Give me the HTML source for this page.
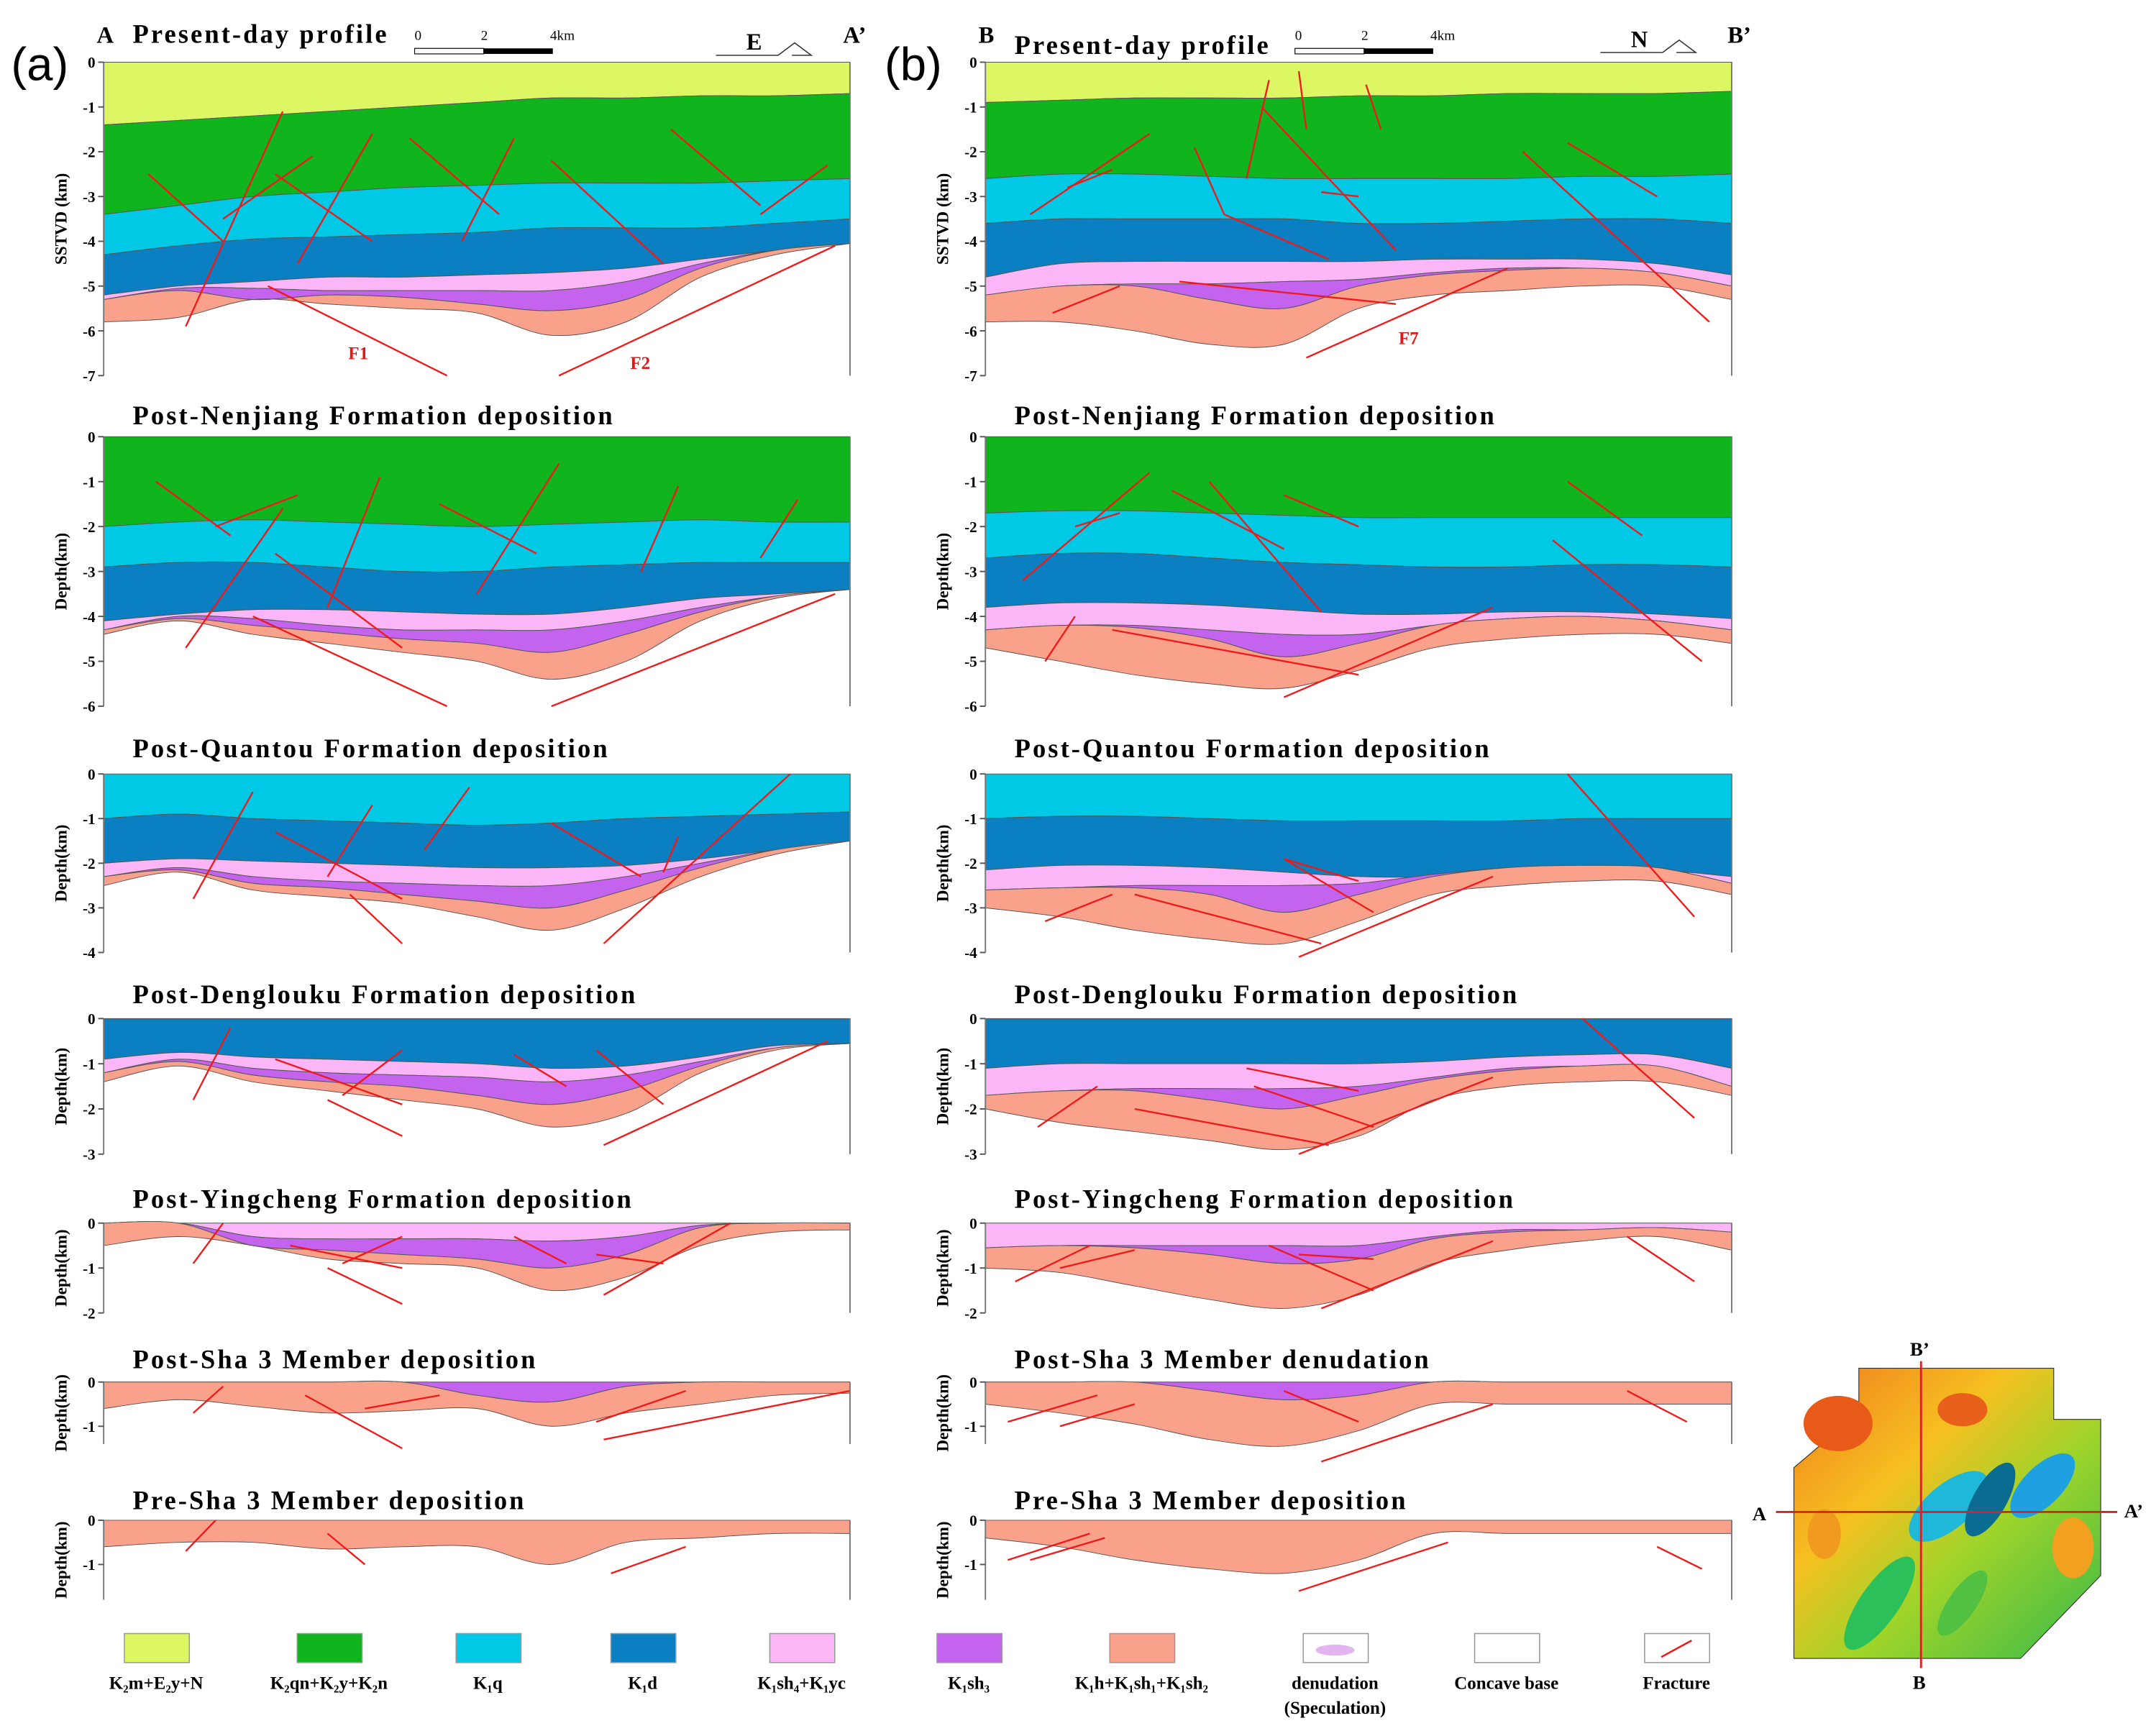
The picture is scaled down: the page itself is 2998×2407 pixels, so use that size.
<!DOCTYPE html>
<html><head><meta charset="utf-8"><style>
html,body{margin:0;padding:0;background:#fff}
svg{display:block}
text{font-family:"Liberation Serif",serif}
</style></head><body>
<svg id="fig" xmlns="http://www.w3.org/2000/svg" width="2998" height="2407" viewBox="0 0 1560 1252.5">
<rect width="1560" height="1252.5" fill="#fff"/>
<g id="panels"></g>
<g id="legend"></g>
<g id="inset">
 <defs>
  <linearGradient id="mg" x1="0" y1="0" x2="1" y2="1">
   <stop offset="0" stop-color="#f07a1e"/><stop offset="0.35" stop-color="#f6c020"/>
   <stop offset="0.6" stop-color="#9fd42a"/><stop offset="1" stop-color="#36b94a"/>
  </linearGradient>
 </defs>
 <polygon points="1345,990 1486,990 1486,1027 1520,1027 1520,1140 1462,1200 1298,1200 1298,1062 1345,1022" fill="url(#mg)" stroke="#333" stroke-width="0.6"/>
 <ellipse cx="1410" cy="1090" rx="35" ry="16" fill="#1fb8d8" transform="rotate(-40 1410 1090)"/>
 <ellipse cx="1478" cy="1075" rx="30" ry="14" fill="#1fa0e0" transform="rotate(-45 1478 1075)"/>
 <ellipse cx="1440" cy="1085" rx="12" ry="30" fill="#0c6b90" transform="rotate(30 1440 1085)"/>
 <ellipse cx="1360" cy="1160" rx="14" ry="40" fill="#2cc05a" transform="rotate(35 1360 1160)"/>
 <ellipse cx="1330" cy="1030" rx="25" ry="20" fill="#e85a18"/>
 <ellipse cx="1500" cy="1120" rx="15" ry="22" fill="#f2a020"/>
 <ellipse cx="1420" cy="1020" rx="18" ry="12" fill="#e8601a"/>
 <ellipse cx="1320" cy="1110" rx="12" ry="18" fill="#f09a20"/>
 <ellipse cx="1420" cy="1160" rx="10" ry="28" fill="#52c040" transform="rotate(35 1420 1160)"/>
 <line x1="1390" y1="985" x2="1390" y2="1207" stroke="#e02020" stroke-width="1.5"/>
 <line x1="1285" y1="1094" x2="1532" y2="1094" stroke="#e02020" stroke-width="1.5"/>
 <text x="1382" y="981" font-size="14" font-weight="bold">B’</text>
 <text x="1384" y="1222" font-size="14" font-weight="bold">B</text>
 <text x="1268" y="1100" font-size="14" font-weight="bold">A</text>
 <text x="1537" y="1098" font-size="14" font-weight="bold">A’</text>
</g>
<text x="8" y="58" font-size="34" style="font-family:'Liberation Sans',sans-serif">(a)</text>
<text x="640" y="58" font-size="34" style="font-family:'Liberation Sans',sans-serif">(b)</text>
</svg>
<script>
const C={Y:"#dcf664",G:"#10b41c",Cy:"#00c9e6",B:"#0a80c2",P:"#fbb6f8",Pu:"#c464ee",S:"#f9a18b"};
const layersA1=["Y","G","Cy","B","P","Pu","S"];
const boundsA1=[[0,0,0,0,0,0,0,0,0,0,0],[-1.4,-1.3,-1.2,-1.1,-1.0,-0.9,-0.8,-0.8,-0.75,-0.75,-0.7],[-3.4,-3.2,-3.0,-2.9,-2.8,-2.75,-2.7,-2.7,-2.7,-2.65,-2.6],[-4.3,-4.1,-3.95,-3.9,-3.85,-3.8,-3.7,-3.7,-3.7,-3.6,-3.5],[-5.2,-5.0,-4.9,-4.8,-4.8,-4.75,-4.7,-4.6,-4.4,-4.2,-4.05],[-5.3,-5.05,-5.05,-5.1,-5.1,-5.1,-5.1,-4.9,-4.5,-4.2,-4.05],[-5.3,-5.1,-5.3,-5.2,-5.25,-5.4,-5.55,-5.3,-4.6,-4.2,-4.05],[-5.8,-5.7,-5.3,-5.4,-5.5,-5.6,-6.1,-5.8,-4.8,-4.3,-4.05]];
const layersA2=["G","Cy","B","P","Pu","S"];
const boundsA2=[[0,0,0,0,0,0,0,0,0,0,0],[-2.0,-1.9,-1.85,-1.9,-1.95,-2.0,-1.95,-1.9,-1.85,-1.9,-1.9],[-2.9,-2.8,-2.8,-2.9,-3.0,-3.0,-2.9,-2.85,-2.8,-2.8,-2.8],[-4.1,-3.95,-3.85,-3.85,-3.9,-3.95,-3.95,-3.8,-3.6,-3.5,-3.4],[-4.3,-4.0,-4.05,-4.2,-4.3,-4.3,-4.3,-4.1,-3.8,-3.55,-3.4],[-4.3,-4.05,-4.2,-4.35,-4.5,-4.6,-4.8,-4.4,-3.9,-3.55,-3.4],[-4.4,-4.1,-4.4,-4.6,-4.8,-5.0,-5.4,-5.0,-4.1,-3.6,-3.4]];
const layersA3=["Cy","B","P","Pu","S"];
const boundsA3=[[0,0,0,0,0,0,0,0,0,0,0],[-1.0,-0.9,-1.0,-1.05,-1.1,-1.15,-1.1,-1.0,-0.95,-0.9,-0.85],[-2.0,-1.9,-1.95,-2.0,-2.05,-2.1,-2.1,-2.05,-1.9,-1.7,-1.5],[-2.3,-2.1,-2.3,-2.4,-2.45,-2.5,-2.5,-2.3,-2.0,-1.7,-1.5],[-2.3,-2.15,-2.45,-2.55,-2.7,-2.85,-3.0,-2.6,-2.1,-1.7,-1.5],[-2.5,-2.2,-2.6,-2.75,-2.9,-3.2,-3.5,-3.0,-2.3,-1.8,-1.5]];
const layersA4=["B","P","Pu","S"];
const boundsA4=[[0,0,0,0,0,0,0,0,0,0,0],[-0.9,-0.75,-0.85,-0.9,-0.95,-1.0,-1.1,-1.05,-0.85,-0.6,-0.55],[-1.2,-0.9,-1.1,-1.2,-1.25,-1.3,-1.4,-1.25,-0.95,-0.65,-0.55],[-1.2,-0.95,-1.25,-1.4,-1.5,-1.7,-1.9,-1.6,-1.05,-0.65,-0.55],[-1.4,-1.05,-1.4,-1.6,-1.8,-2.0,-2.4,-2.1,-1.2,-0.7,-0.55]];
const layersA5=["P","Pu","S"];
const boundsA5=[[0,0,0,0,0,0,0,0,0,0,0],[0,0,-0.3,-0.35,-0.35,-0.35,-0.4,-0.3,-0.05,0,0],[0,0,-0.5,-0.6,-0.7,-0.8,-1.0,-0.7,-0.1,0,0],[-0.5,-0.3,-0.5,-0.8,-0.9,-1.0,-1.5,-1.2,-0.5,-0.2,-0.15]];
const layersA6=["Pu","S"];
const boundsA6=[[0,0,0,0,0,0,0,0,0,0,0],[0,0,0,0,0,-0.3,-0.45,-0.1,0,0,0],[-0.6,-0.4,-0.55,-0.7,-0.65,-0.6,-1.0,-0.7,-0.5,-0.3,-0.25]];
const layersA7=["S"];
const boundsA7=[[0,0,0,0,0,0,0,0,0,0,0],[-0.6,-0.5,-0.5,-0.65,-0.6,-0.6,-1.0,-0.5,-0.4,-0.3,-0.3]];
const layersB1=["Y","G","Cy","B","P","Pu","S"];
const boundsB1=[[0,0,0,0,0,0,0,0,0,0,0],[-0.9,-0.85,-0.8,-0.8,-0.8,-0.75,-0.75,-0.7,-0.7,-0.7,-0.65],[-2.6,-2.5,-2.5,-2.55,-2.6,-2.6,-2.6,-2.6,-2.55,-2.55,-2.5],[-3.6,-3.5,-3.5,-3.5,-3.5,-3.6,-3.6,-3.55,-3.5,-3.5,-3.6],[-4.8,-4.5,-4.45,-4.45,-4.45,-4.45,-4.4,-4.4,-4.4,-4.5,-4.75],[-5.2,-5.0,-4.95,-4.95,-4.9,-4.85,-4.7,-4.6,-4.6,-4.7,-5.0],[-5.2,-5.0,-5.0,-5.3,-5.5,-5.0,-4.75,-4.65,-4.6,-4.7,-5.0],[-5.8,-5.8,-6.0,-6.3,-6.3,-5.5,-5.2,-5.1,-5.0,-5.0,-5.3]];
const layersB2=["G","Cy","B","P","Pu","S"];
const boundsB2=[[0,0,0,0,0,0,0,0,0,0,0],[-1.7,-1.65,-1.65,-1.7,-1.75,-1.8,-1.8,-1.8,-1.8,-1.8,-1.8],[-2.7,-2.6,-2.6,-2.7,-2.8,-2.85,-2.9,-2.9,-2.85,-2.85,-2.9],[-3.8,-3.7,-3.7,-3.75,-3.85,-3.95,-3.95,-3.9,-3.9,-3.95,-4.05],[-4.3,-4.2,-4.2,-4.3,-4.4,-4.4,-4.2,-4.05,-4.0,-4.1,-4.3],[-4.3,-4.2,-4.25,-4.5,-4.9,-4.6,-4.2,-4.05,-4.0,-4.1,-4.3],[-4.7,-5.0,-5.3,-5.5,-5.6,-5.2,-4.7,-4.5,-4.4,-4.4,-4.6]];
const layersB3=["Cy","B","P","Pu","S"];
const boundsB3=[[0,0,0,0,0,0,0,0,0,0,0],[-1.0,-0.95,-0.95,-1.0,-1.05,-1.05,-1.05,-1.05,-1.0,-1.0,-1.0],[-2.15,-2.05,-2.05,-2.1,-2.2,-2.3,-2.3,-2.2,-2.15,-2.15,-2.3],[-2.6,-2.55,-2.5,-2.5,-2.5,-2.45,-2.25,-2.1,-2.05,-2.1,-2.45],[-2.6,-2.55,-2.55,-2.7,-3.1,-2.7,-2.3,-2.1,-2.05,-2.1,-2.45],[-3.0,-3.2,-3.5,-3.7,-3.8,-3.3,-2.7,-2.5,-2.4,-2.4,-2.7]];
const layersB4=["B","P","Pu","S"];
const boundsB4=[[0,0,0,0,0,0,0,0,0,0,0],[-1.1,-1.0,-1.0,-1.0,-1.0,-1.0,-0.95,-0.85,-0.8,-0.8,-1.1],[-1.7,-1.6,-1.55,-1.55,-1.55,-1.5,-1.3,-1.1,-1.05,-1.05,-1.5],[-1.7,-1.6,-1.6,-1.8,-2.0,-1.7,-1.35,-1.15,-1.05,-1.05,-1.5],[-2.0,-2.3,-2.5,-2.7,-2.9,-2.6,-1.8,-1.5,-1.4,-1.4,-1.7]];
const layersB5=["P","Pu","S"];
const boundsB5=[[0,0,0,0,0,0,0,0,0,0,0],[-0.55,-0.5,-0.5,-0.5,-0.5,-0.5,-0.3,-0.15,-0.15,-0.1,-0.2],[-0.55,-0.5,-0.55,-0.7,-0.9,-0.8,-0.35,-0.2,-0.15,-0.1,-0.2],[-1.0,-1.1,-1.4,-1.7,-1.9,-1.6,-0.9,-0.6,-0.4,-0.3,-0.6]];
const layersB6=["Pu","S"];
const boundsB6=[[0,0,0,0,0,0,0,0,0,0,0],[0,0,0,-0.2,-0.4,-0.3,0,0,0,0,0],[-0.5,-0.7,-0.95,-1.3,-1.45,-1.1,-0.5,-0.5,-0.5,-0.5,-0.5]];
const layersB7=["S"];
const boundsB7=[[0,0,0,0,0,0,0,0,0,0,0],[-0.4,-0.6,-0.9,-1.1,-1.2,-0.9,-0.3,-0.3,-0.3,-0.3,-0.3]];
const faultsA1=[[0.11,-5.9,0.24,-1.1],[0.06,-2.5,0.16,-4.0],[0.16,-3.5,0.28,-2.1],[0.23,-2.5,0.36,-4.0],[0.36,-1.6,0.26,-4.5],[0.41,-1.7,0.53,-3.4],[0.55,-1.7,0.48,-4.0],[0.6,-2.2,0.75,-4.5],[0.76,-1.5,0.88,-3.2],[0.97,-2.3,0.88,-3.4],[0.22,-5.0,0.46,-7.0],[0.61,-7.0,0.98,-4.1]];
const faultsA2=[[0.11,-4.7,0.24,-1.6],[0.07,-1.0,0.17,-2.2],[0.15,-2.0,0.26,-1.3],[0.23,-2.6,0.4,-4.7],[0.37,-0.9,0.3,-3.8],[0.45,-1.5,0.58,-2.6],[0.61,-0.6,0.5,-3.5],[0.77,-1.1,0.72,-3.0],[0.93,-1.4,0.88,-2.7],[0.2,-4.0,0.46,-6.0],[0.6,-6.0,0.98,-3.5]];
const faultsA3=[[0.12,-2.8,0.2,-0.4],[0.23,-1.3,0.4,-2.8],[0.36,-0.7,0.3,-2.3],[0.49,-0.3,0.43,-1.7],[0.6,-1.1,0.72,-2.3],[0.77,-1.4,0.75,-2.2],[0.33,-2.7,0.4,-3.8],[0.67,-3.8,0.92,0.0]];
const faultsA4=[[0.12,-1.8,0.17,-0.2],[0.23,-0.9,0.4,-1.9],[0.4,-0.7,0.32,-1.7],[0.55,-0.8,0.62,-1.5],[0.66,-0.7,0.75,-1.9],[0.3,-1.8,0.4,-2.6],[0.67,-2.8,0.97,-0.5]];
const faultsA5=[[0.12,-0.9,0.16,0.0],[0.25,-0.5,0.4,-1.0],[0.4,-0.3,0.32,-0.9],[0.55,-0.3,0.62,-0.9],[0.66,-0.7,0.75,-0.9],[0.3,-1.0,0.4,-1.8],[0.67,-1.6,0.84,0.0]];
const faultsA6=[[0.12,-0.7,0.16,-0.1],[0.27,-0.3,0.4,-1.5],[0.45,-0.3,0.35,-0.6],[0.66,-0.9,0.78,-0.2],[0.67,-1.3,1.0,-0.2]];
const faultsA7=[[0.11,-0.7,0.15,0.0],[0.3,-0.3,0.35,-1.0],[0.68,-1.2,0.78,-0.6]];
const faultsB1=[[0.06,-3.4,0.22,-1.6],[0.11,-2.8,0.17,-2.4],[0.28,-1.9,0.32,-3.4],[0.32,-3.4,0.46,-4.4],[0.38,-0.4,0.35,-2.6],[0.37,-1.0,0.55,-4.2],[0.42,-0.2,0.43,-1.5],[0.51,-0.5,0.53,-1.5],[0.5,-3.0,0.45,-2.9],[0.78,-1.8,0.9,-3.0],[0.72,-2.0,0.97,-5.8],[0.26,-4.9,0.55,-5.4],[0.09,-5.6,0.18,-5.0],[0.43,-6.6,0.7,-4.6]];
const faultsB2=[[0.08,-5.0,0.12,-4.0],[0.05,-3.2,0.22,-0.8],[0.12,-2.0,0.18,-1.7],[0.25,-1.2,0.4,-2.5],[0.3,-1.0,0.45,-3.9],[0.4,-1.3,0.5,-2.0],[0.78,-1.0,0.88,-2.2],[0.76,-2.3,0.96,-5.0],[0.17,-4.3,0.5,-5.3],[0.4,-5.8,0.68,-3.8]];
const faultsB3=[[0.08,-3.3,0.17,-2.7],[0.4,-1.9,0.5,-2.4],[0.4,-1.9,0.52,-3.1],[0.2,-2.7,0.45,-3.8],[0.42,-4.1,0.68,-2.3],[0.78,0.0,0.95,-3.2]];
const faultsB4=[[0.07,-2.4,0.15,-1.5],[0.35,-1.1,0.5,-1.6],[0.36,-1.5,0.52,-2.4],[0.2,-2.0,0.46,-2.8],[0.42,-3.0,0.68,-1.3],[0.8,0.0,0.95,-2.2]];
const faultsB5=[[0.04,-1.3,0.14,-0.5],[0.1,-1.0,0.2,-0.6],[0.38,-0.5,0.52,-1.5],[0.42,-0.7,0.52,-0.8],[0.45,-1.9,0.68,-0.4],[0.86,-0.3,0.95,-1.3]];
const faultsB6=[[0.03,-0.9,0.15,-0.3],[0.1,-1.0,0.2,-0.5],[0.4,-0.2,0.5,-0.9],[0.45,-1.8,0.68,-0.5],[0.86,-0.2,0.94,-0.9]];
const faultsB7=[[0.03,-0.9,0.14,-0.3],[0.06,-0.9,0.16,-0.4],[0.42,-1.6,0.62,-0.5],[0.9,-0.6,0.96,-1.1]];

const xL=[75,713], W=540;
const rows=[
 {y0:45,pk:32.4,min:7,yl:"SSTVD (km)",t:"Present-day profile",ty:31},
 {y0:316,pk:32.5,min:6,yl:"Depth(km)",t:"Post-Nenjiang Formation deposition",ty:307},
 {y0:560,pk:32.3,min:4,yl:"Depth(km)",t:"Post-Quantou Formation deposition",ty:548},
 {y0:737,pk:32.7,min:3,yl:"Depth(km)",t:"Post-Denglouku Formation deposition",ty:726},
 {y0:885,pk:32.5,min:2,yl:"Depth(km)",t:"Post-Yingcheng Formation deposition",ty:874},
 {y0:1000,pk:32,min:1.4,yl:"Depth(km)",t:"Post-Sha 3 Member deposition",ty:990},
 {y0:1100,pk:32,min:1.8,yl:"Depth(km)",t:"Pre-Sha 3 Member deposition",ty:1092}];
const A=[[layersA1,boundsA1,faultsA1],[layersA2,boundsA2,faultsA2],[layersA3,boundsA3,faultsA3],[layersA4,boundsA4,faultsA4],[layersA5,boundsA5,faultsA5],[layersA6,boundsA6,faultsA6],[layersA7,boundsA7,faultsA7]];
const B=[[layersB1,boundsB1,faultsB1],[layersB2,boundsB2,faultsB2],[layersB3,boundsB3,faultsB3],[layersB4,boundsB4,faultsB4],[layersB5,boundsB5,faultsB5],[layersB6,boundsB6,faultsB6],[layersB7,boundsB7,faultsB7]];
const titlesB=["Present-day profile","Post-Nenjiang Formation deposition","Post-Quantou Formation deposition","Post-Denglouku Formation deposition","Post-Yingcheng Formation deposition","Post-Sha 3 Member denudation","Pre-Sha 3 Member deposition"];
const NS="http://www.w3.org/2000/svg";
const root=document.getElementById('panels');
function mk(t,a,p){const e=document.createElementNS(NS,t);for(const k in a)e.setAttribute(k,a[k]);(p||root).appendChild(e);return e;}
function curve(pts){let d="";for(let i=0;i<pts.length;i++){const p=pts[i];if(i==0){d+="M"+p[0]+","+p[1];continue;}const p0=pts[Math.max(0,i-2)],p1=pts[i-1],p3=pts[Math.min(pts.length-1,i+1)];const c1=[p1[0]+(p[0]-p0[0])/6,p1[1]+(p[1]-p0[1])/6],c2=[p[0]-(p3[0]-p1[0])/6,p[1]-(p3[1]-p1[1])/6];d+="C"+c1+" "+c2+" "+p;}return d;}
function panel(col,r,data,title){
 const row=rows[r],x0=xL[col];
 const sx=f=>x0+f*W, sy=d=>row.y0-d*row.pk;
 const g=mk('g',{});
 
 
 const [lay,bnd,flt]=data;
 const n=bnd[0].length;
 for(let i=0;i<lay.length;i++){
  const top=bnd[i].map((d,k)=>[sx(k/(n-1)),sy(d)]);
  const bot=bnd[i+1].map((d,k)=>[sx(k/(n-1)),sy(d)]).reverse();
  const d=curve(top)+"L"+bot[0]+curve(bot).slice(1).replace(/^[^C]*/,"")+"Z";
  const p=mk('path',{d:d,fill:C[lay[i]],stroke:"#555","stroke-width":0.5},g);
  
  
 }
 flt.forEach(f=>{const l=mk('line',{x1:sx(f[0]),y1:sy(f[1]),x2:sx(f[2]),y2:sy(f[3]),stroke:"#f01818","stroke-width":1.2},g);
  
  });
 const yb=row.y0+row.min*row.pk;
 mk('line',{x1:x0,y1:row.y0,x2:x0,y2:yb,stroke:"#777","stroke-width":1},g);
 mk('line',{x1:x0+W,y1:row.y0,x2:x0+W,y2:yb,stroke:"#777","stroke-width":1},g);
 for(let k=0;k<=Math.floor(row.min);k++){const y=sy(-k);
  mk('line',{x1:x0-4,y1:y,x2:x0,y2:y,stroke:"#555"},g);
  const t=mk('text',{x:x0-6,y:y+4,"font-size":11,"text-anchor":"end","font-weight":"bold"},g);t.textContent=k?("-"+k):"0";
  }
 const yt=mk('text',{transform:`translate(${x0-27},${(row.y0+yb)/2}) rotate(-90)`,"font-size":12,"font-weight":"bold","text-anchor":"middle"},g);
 yt.textContent=row.yl;
 const tt=mk('text',{x:x0+21,y:col&&r==0?39:row.ty,"font-size":19,"font-weight":"bold","letter-spacing":"1.6"},g);
 tt.textContent=title;
}
for(let r=0;r<7;r++){panel(0,r,A[r],rows[r].t);panel(1,r,B[r],titlesB[r]);}
const extras=[["A",70,31],["A’",610,31],["B",708,31],["B’",1250,31],["F1",252,260],["F2",456,267],["F7",1012,249],["E",540,36],["N",1180,34]];
extras.forEach(e=>{const t=mk('text',{x:e[1],y:e[2],"font-size":e[0][0]=="F"?13:17,"font-weight":"bold",fill:e[0][0]=="F"?"#e01818":"#000"});t.textContent=e[0];
 });
[[300,35],[937,35]].forEach(s=>{const g=mk('g',{});
 mk('rect',{x:s[0],y:s[1],width:50,height:4,fill:"#fff",stroke:"#000","stroke-width":0.6},g);
 mk('rect',{x:s[0]+50,y:s[1],width:50,height:4,fill:"#000"},g);
 [["0",0],["2",48],["4km",98]].forEach(l=>{const t=mk('text',{x:s[0]+l[1],y:s[1]-6,"font-size":10},g);t.textContent=l[0];});});
[[518,40],[1158,38]].forEach(s=>{mk('path',{d:`M${s[0]},${s[1]}h45l12,-9l12,9h-14`,fill:"none",stroke:"#333","stroke-width":0.8});});
const lg=document.getElementById('legend');
const legFill=["#dcf664","#10b41c","#00c9e6","#0a80c2","#fbb6f8","#c464ee","#f9a18b","#fff","#fff","#fff"];
const legX=[90,215,330,442,557,678,803,943,1067,1190];
const legText=["K₂m+E₂y+N","K₂qn+K₂y+K₂n","K₁q","K₁d","K₁sh₄+K₁yc","K₁sh₃","K₁h+K₁sh₁+K₁sh₂","denudation","Concave base","Fracture"];
legX.forEach((x,i)=>{const r=mk('rect',{x:x,y:1182,width:47,height:21,fill:legFill[i],stroke:"#999","stroke-width":0.8},lg);
 
 const t=mk('text',{x:x+23,y:1222,"font-size":13,"font-weight":"bold","text-anchor":"middle"},lg);t.textContent=legText[i];
 });
mk('ellipse',{cx:966,cy:1194,rx:14,ry:4,fill:"#e4b4f0"},lg);
mk('line',{x1:1202,y1:1199,x2:1224,y2:1187,stroke:"#f01818","stroke-width":1.3},lg);
const sp=mk('text',{x:966,y:1240,"font-size":13,"font-weight":"bold","text-anchor":"middle"},lg);sp.textContent="(Speculation)";
</script>
</body></html>
